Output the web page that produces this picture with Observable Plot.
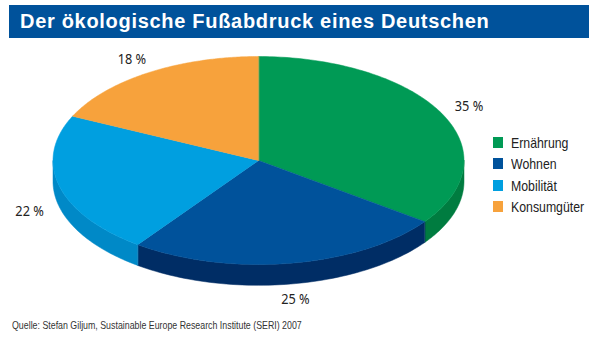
<!DOCTYPE html>
<html><head><meta charset="utf-8">
<script src="https://cdn.jsdelivr.net/npm/d3@7"></script>
<script src="https://cdn.jsdelivr.net/npm/@observablehq/plot@0.6"></script>
<style>
body{margin:0;background:#fff;}
#wrap{position:relative;width:600px;height:339px;overflow:hidden;font-family:"Liberation Sans",Arial,sans-serif;}
#title{position:absolute;left:9px;top:5px;width:580px;height:33px;background:#00529b;color:#fff;font-weight:bold;font-size:20px;letter-spacing:0.7px;line-height:33px;box-sizing:border-box;padding-left:11px;white-space:nowrap;}
#chart{position:absolute;left:0;top:38px;}
#legend{position:absolute;left:493px;top:132px;font-size:15px;color:#222;}
.row{display:flex;align-items:center;height:21.3px;}
.sw{width:10px;height:11px;margin-right:8px;}
.lt{display:inline-block;transform:scaleX(0.82);transform-origin:left center;white-space:nowrap;}
#cap{position:absolute;left:12px;top:319px;font-size:10.5px;color:#333;white-space:nowrap;transform:scaleX(0.84);transform-origin:left center;}
</style></head>
<body>
<div id="wrap">
<div id="title">Der ökologische Fußabdruck eines Deutschen</div>
<div id="chart"></div>
<div id="legend"></div>
<div id="cap">Quelle: Stefan Giljum, Sustainable Europe Research Institute (SERI) 2007</div>
</div>
<script>
const categories = ["Ernährung", "Wohnen", "Mobilität", "Konsumgüter"];
const values = [35, 25, 22, 18];
const labels = ["35 %", "25 %", "22 %", "18 %"];
const topColors = ["#009a55", "#00529b", "#009fe0", "#f7a23c"];
const sideColors = ["#007c40", "#002d65", "#0089c7", "#d9872a"];

const depth = 0.2; // in y units (relative to vertical radius)
const total = d3.sum(values);
let acc = 0;
const slices = values.map((v, i) => {
  const a0 = acc / total * 2 * Math.PI;
  acc += v;
  const a1 = acc / total * 2 * Math.PI;
  return {i, a0, a1};
});
const pt = a => [Math.sin(a), -Math.cos(a)];

// side walls (front half: angles between PI/2 and 3PI/2)
const sidePts = [];
slices.forEach(s => {
  const lo = Math.max(s.a0, Math.PI / 2), hi = Math.min(s.a1, 3 * Math.PI / 2);
  if (hi <= lo) return;
  const n = 60;
  const arc = d3.range(n + 1).map(k => lo + (hi - lo) * k / n);
  arc.forEach(a => { const [x, y] = pt(a); sidePts.push({id: "s" + s.i, x, y, c: sideColors[s.i]}); });
  arc.slice().reverse().forEach(a => { const [x, y] = pt(a); sidePts.push({id: "s" + s.i, x, y: y + depth, c: sideColors[s.i]}); });
});

// top faces
const topPts = [];
slices.forEach(s => {
  const n = 120;
  topPts.push({id: "t" + s.i, x: 0, y: 0, c: topColors[s.i]});
  d3.range(n + 1).forEach(k => {
    const a = s.a0 + (s.a1 - s.a0) * k / n;
    const [x, y] = pt(a);
    topPts.push({id: "t" + s.i, x, y, c: topColors[s.i]});
  });
});

// labels
const lab = slices.map(s => {
  const m = (s.a0 + s.a1) / 2;
  const [x, y] = pt(m);
  const r = 1.15;
  return {x: x * r, y: y * r + (y > 0 ? depth : 0), t: labels[s.i]};
});

const chart = Plot.plot({
  width: 600,
  height: 280,
  margin: 0,
  x: {domain: [-1, 1], range: [52.5, 463.5], axis: null},
  y: {domain: [-1, 1], range: [18, 226], axis: null},
  color: {type: "identity"},
  marks: [
    Plot.line(sidePts, {x: "x", y: "y", z: "id", fill: "c", stroke: "c", strokeWidth: 0.5, curve: "linear-closed"}),
    Plot.line(topPts, {x: "x", y: "y", z: "id", fill: "c", stroke: "c", strokeWidth: 0.5, curve: "linear-closed"}),
    Plot.text(lab, {x: "x", y: "y", text: "t", fontSize: 15, fill: "#222", className: "lbl"})
  ]
});
// condense the slice labels horizontally around their anchor
chart.querySelectorAll(".lbl text").forEach(t => {
  const tr = t.getAttribute("transform") || "";
  t.setAttribute("transform", tr + " scale(0.85,1)");
});
document.getElementById("chart").appendChild(chart);

const leg = document.getElementById("legend");
categories.forEach((c, i) => {
  const r = document.createElement("div"); r.className = "row";
  const s = document.createElement("div"); s.className = "sw"; s.style.background = topColors[i];
  const t = document.createElement("span"); t.className = "lt"; t.textContent = c;
  r.appendChild(s); r.appendChild(t); leg.appendChild(r);
});
</script>
</body></html>
